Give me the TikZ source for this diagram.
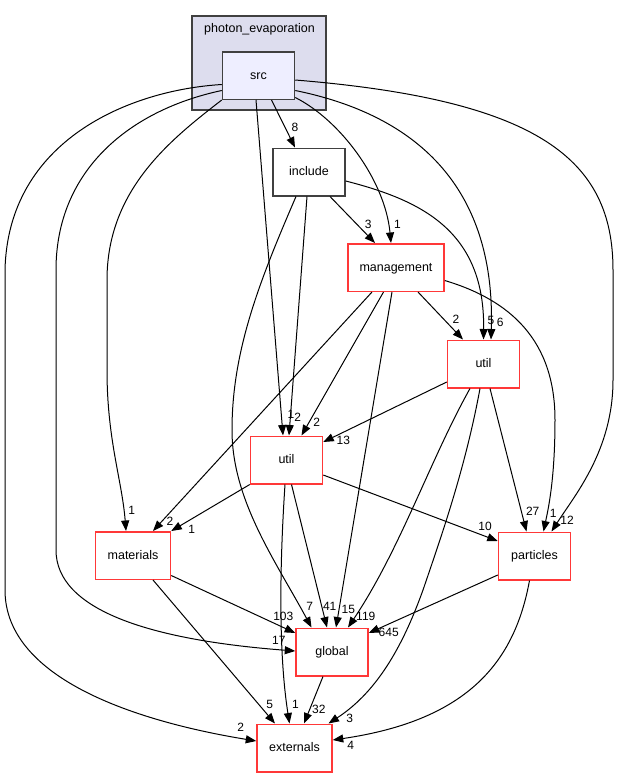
\documentclass[tikz,border=0pt]{standalone}
\usepackage{fontspec}
\setmainfont{Liberation Sans}
\usetikzlibrary{arrows.meta,calc}
\definecolor{redb}{RGB}{255,56,56}
\definecolor{grayb}{RGB}{64,64,64}
\definecolor{clfill}{RGB}{221,221,238}
\definecolor{srcfill}{RGB}{238,238,255}
\begin{document}
\begin{tikzpicture}[x=1pt,y=-1pt,
  dirbox/.style={draw, minimum width=#1, minimum height=47.5pt, inner sep=0pt, line width=1.5pt,
    font=\fontsize{12.5}{14}\selectfont, text height=10pt, text depth=2.4pt},
  reddir/.style={dirbox=#1, draw=redb, fill=white},
  graydir/.style={dirbox=#1, draw=grayb},
  dep/.style={draw=black, line width=1pt, -{Triangle[length=10.5pt,width=8pt]}},
  lbl/.style={font=\fontsize{12}{14}\selectfont, inner sep=0pt}]
\useasboundingbox (0,0) rectangle (619,777);
% cluster
\node[draw=grayb, fill=clfill, line width=1.5pt, minimum width=134pt, minimum height=94pt, inner sep=0pt] (cl) at (259.2,63) {};
\node[font=\fontsize{12.5}{14}\selectfont, inner sep=0pt, anchor=base] (cltitle) at (259.5,32.5) {photon\_evaporation};
% nodes
\node[graydir=72pt, fill=srcfill] (src) at (258.5,75.5) {src};
\node[graydir=72pt, fill=white] (include) at (309,172) {include};
\node[reddir=96pt] (management) at (396,267.5) {management};
\node[reddir=72pt] (utilR) at (483.5,364) {util};
\node[reddir=72pt] (utilM) at (286.5,460) {util};
\node[reddir=75pt] (materials) at (133,555.5) {materials};
\node[reddir=72pt] (particles) at (534.5,556) {particles};
\node[reddir=72pt] (global) at (332,652) {global};
\node[reddir=75pt] (externals) at (294.5,748) {externals};
% edges from src
\draw[dep] ($(src.south)+(13,0)$) -- ($(include.north)+(-14,0)$) node[lbl] at (295,127) {8};
\draw[dep] ($(src.east)+(0,22)$) .. controls (340,120) and (385,180) .. ($(management.north)+(-5,0)$) node[lbl] at (397.5,224) {1};
\draw[dep] ($(src.east)+(0,15)$) .. controls (440,120) and (495,210) .. ($(utilR.north)+(7.5,0)$) node[lbl] at (500.3,322.7) {6};
\draw[dep] ($(src.east)+(0,4.5)$) .. controls (540,100) and (613,160) .. (613,270) -- (613,380) .. controls (613,450) and (575,495) .. ($(particles.north)+(17,0)$) node[lbl] at (567,520) {12};
\draw[dep] ($(src.south)+(-2.5,0)$) -- ($(utilM.north)+(-3.5,0)$) node[lbl] at (291,414.5) {1};
\draw[dep] (src.south west) .. controls (170,140) and (107,190) .. (107,280) -- (107,370) .. controls (107,440) and (122,480) .. ($(materials.north)+(-7,0)$) node[lbl] at (131.7,510.7) {1};
\draw[dep] ($(src.west)+(0,15)$) .. controls (130,110) and (56,170) .. (56,270) -- (56,550) .. controls (56,610) and (150,640) .. ($(global.west)+(0,-1)$) node[lbl] at (278.8,640.8) {17};
\draw[dep] ($(src.west)+(0,9)$) .. controls (130,90) and (8,140) .. (5,270) -- (5,590) .. controls (5,680) and (140,722) .. ($(externals.west)+(0,-7)$) node[lbl] at (240.8,727) {2};
% edges from include
\draw[dep] ($(include.south)+(21,0)$) -- ($(management.north)+(-21,0)$) node[lbl] at (368.3,224) {3};
\draw[dep] ($(include.east)+(0,9)$) .. controls (420,200) and (485,230) .. (utilR.north) node[lbl] at (491,320.5) {5};
\draw[dep] ($(include.south)+(-2,0)$) -- ($(utilM.north)+(2.5,0)$) node[lbl] at (297.8,417) {2};
\draw[dep] ($(include.south)+(-13,0)$) .. controls (260,280) and (232,350) .. (232,430) .. controls (232,500) and (275,560) .. ($(global.north)+(-20.5,0)$) node[lbl] at (309.7,606.7) {7};
% edges from management
\draw[dep] ($(management.south)+(22,0)$) -- ($(utilR.north)+(-20.5,0)$) node[lbl] at (456,319.5) {2};
\draw[dep] ($(management.east)+(0,13)$) .. controls (510,300) and (555,340) .. (555,420) .. controls (555,480) and (548,510) .. ($(particles.north)+(9,0)$) node[lbl] at (553.3,513.3) {1};
\draw[dep] ($(management.south)+(-24,0)$) -- ($(materials.north)+(20,0)$) node[lbl] at (170,521.7) {2};
\draw[dep] ($(management.south)+(-12.5,0)$) -- ($(utilM.north)+(15,0)$) node[lbl] at (316.7,422.7) {2};
\draw[dep] ($(management.south)+(-4,0)$) -- ($(global.north)+(4,0)$) node[lbl] at (348.3,609) {15};
% edges from util (right)
\draw[dep] ($(utilR.west)+(0,18)$) -- ($(utilM.east)+(0,-18)$) node[lbl] at (343.3,440) {13};
\draw[dep] ($(utilR.south)+(6.5,0)$) -- ($(particles.north)+(-8,0)$) node[lbl] at (532.7,511) {27};
\draw[dep] ($(utilR.south)+(-13.5,0)$) .. controls (430,460) and (400,550) .. ($(global.north)+(16,0)$) node[lbl] at (365.8,616.7) {119};
\draw[dep] ($(utilR.south)+(-3.5,0)$) .. controls (465,470) and (440,540) .. (423,590) .. controls (405,640) and (380,690) .. ($(externals.north)+(34,0)$) node[lbl] at (349.7,718.5) {3};
% edges from util (middle)
\draw[dep] (utilM.south west) -- (materials.north east) node[lbl] at (191.7,529.3) {1};
\draw[dep] ($(utilM.east)+(0,15)$) -- ($(particles.west)+(0,-15)$) node[lbl] at (485,526) {10};
\draw[dep] ($(utilM.south)+(5,0)$) -- ($(global.north)+(-5,0)$) node[lbl] at (329.7,606.7) {41};
\draw[dep] ($(utilM.south)+(-1.5,0)$) .. controls (280,560) and (278,650) .. ($(externals.north)+(-5,0)$) node[lbl] at (295.5,704) {1};
% edges from materials
\draw[dep] ($(materials.east)+(0,20)$) -- ($(global.west)+(0,-19)$) node[lbl] at (283.3,616.7) {103};
\draw[dep] ($(materials.south)+(20,0)$) -- ($(externals.north)+(-19.5,0)$) node[lbl] at (269.7,704) {5};
% edges from particles
\draw[dep] ($(particles.west)+(0,19)$) -- ($(global.east)+(0,-19)$) node[lbl] at (388.7,632.5) {645};
\draw[dep] ($(particles.south)+(-5,0)$) .. controls (515,660) and (470,720) .. ($(externals.east)+(0,-8)$) node[lbl] at (350.7,745) {4};
% edge from global
\draw[dep] ($(global.south)+(-9,0)$) -- ($(externals.north)+(9.5,0)$) node[lbl] at (318.8,709) {32};
\end{tikzpicture}
\end{document}
